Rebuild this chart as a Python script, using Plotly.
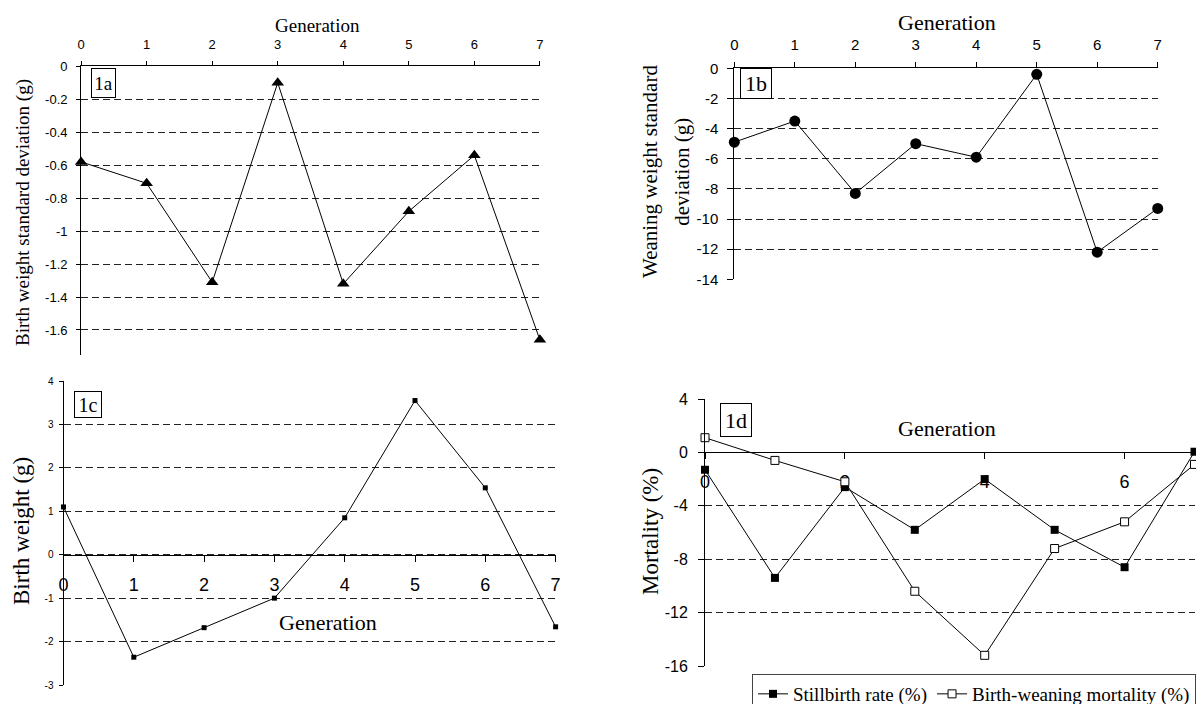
import plotly.graph_objects as go

W, H = 1204, 704
OFF = 8  # page body margin offset in the screenshot

# ---------------- data ----------------
generation = [0, 1, 2, 3, 4, 5, 6, 7]
gen_tick_text = ["0", "1", "2", "3", "4", "5", "6", "7"]

birth_weight_sd = [-0.58, -0.71, -1.31, -0.10, -1.32, -0.88, -0.54, -1.66]
bw_sd_ticks = [0, -0.2, -0.4, -0.6, -0.8, -1.0, -1.2, -1.4, -1.6]
bw_sd_tick_text = ["0", "-0.2", "-0.4", "-0.6", "-0.8", "-1", "-1.2", "-1.4", "-1.6"]

weaning_weight_sd = [-4.9, -3.5, -8.3, -5.0, -5.9, -0.4, -12.2, -9.3]
ww_sd_ticks = [0, -2, -4, -6, -8, -10, -12, -14]
ww_sd_tick_text = ["0", "-2", "-4", "-6", "-8", "-10", "-12", "-14"]

birth_weight = [1.10, -2.36, -1.68, -1.00, 0.85, 3.55, 1.54, -1.66]
bw_ticks = [4, 3, 2, 1, 0, -1, -2, -3]
bw_tick_text = ["4", "3", "2", "1", "0", "-1", "-2", "-3"]

stillbirth_rate = [-1.3, -9.4, -2.6, -5.8, -2.0, -5.8, -8.6, 0.05]
birth_weaning_mortality = [1.1, -0.6, -2.2, -10.4, -15.2, -7.2, -5.2, -0.9]
mort_ticks = [4, 0, -4, -8, -12, -16]
mort_tick_text = ["4", "0", "-4", "-8", "-12", "-16"]
mort_gen_ticks = [0, 2, 4, 6]
mort_gen_tick_text = ["0", "2", "4", "6"]

SANS = "Liberation Sans, Arial, sans-serif"
SERIF = "Liberation Serif, Times New Roman, serif"


def px_x(p):
    return (p - OFF) / W


def px_y(p):
    return 1 - (p - OFF) / H


fig = go.Figure()

line = dict(color="black", width=1)

fig.add_trace(go.Scatter(x=generation, y=birth_weight_sd, mode="lines+markers",
                         line=line, marker=dict(symbol="triangle-up", size=11, color="black"),
                         xaxis="x", yaxis="y", showlegend=False, cliponaxis=False))
fig.add_trace(go.Scatter(x=generation, y=weaning_weight_sd, mode="lines+markers",
                         line=line, marker=dict(symbol="circle", size=11, color="black"),
                         xaxis="x2", yaxis="y2", showlegend=False, cliponaxis=False))
fig.add_trace(go.Scatter(x=generation, y=birth_weight, mode="lines+markers",
                         line=line, marker=dict(symbol="square", size=5, color="black"),
                         xaxis="x3", yaxis="y3", showlegend=False, cliponaxis=False))
fig.add_trace(go.Scatter(x=generation, y=stillbirth_rate, mode="lines+markers",
                         name="Stillbirth rate (%)",
                         line=line, marker=dict(symbol="square", size=8, color="black"),
                         xaxis="x4", yaxis="y4", cliponaxis=False))
fig.add_trace(go.Scatter(x=generation, y=birth_weaning_mortality, mode="lines+markers",
                         name="Birth-weaning mortality (%)",
                         line=line, marker=dict(symbol="square", size=8, color="white",
                                                line=dict(color="black", width=1)),
                         xaxis="x4", yaxis="y4", cliponaxis=False))

GRID = dict(showgrid=True, gridcolor="#222222", gridwidth=1, griddash="7px,4px")
AX = dict(showline=True, linecolor="black", linewidth=1, zeroline=False, automargin=False,
          ticks="outside", tickcolor="black", tickwidth=1)

layout = dict(
    width=W, height=H, margin=dict(l=0, r=0, t=0, b=0, pad=0, autoexpand=False),
    paper_bgcolor="white", plot_bgcolor="white",
    # 1a
    xaxis=dict(**AX, domain=[px_x(81.1), px_x(539.9)], range=[0, 7], side="top", anchor="y",
               tickvals=generation, ticktext=gen_tick_text, ticklen=4, showgrid=False,
               tickfont=dict(family=SANS, size=13, color="black"), ticklabelstandoff=7),
    yaxis=dict(**AX, **GRID, domain=[px_y(354.7), px_y(66.3)], range=[-1.75, 0], anchor="x",
               tickvals=bw_sd_ticks, ticktext=bw_sd_tick_text, ticklen=4,
               tickfont=dict(family=SANS, size=13, color="black"), ticklabelstandoff=6),
    # 1b
    xaxis2=dict(**AX, domain=[px_x(734.3), px_x(1157.7)], range=[0, 7], side="top", anchor="y2",
                tickvals=generation, ticktext=gen_tick_text, ticklen=5, showgrid=False,
                tickfont=dict(family=SANS, size=15, color="black"), ticklabelstandoff=6),
    yaxis2=dict(**AX, **GRID, domain=[px_y(279.3), px_y(68.3)], range=[-14, 0], anchor="x2",
                tickvals=ww_sd_ticks, ticktext=ww_sd_tick_text, ticklen=6,
                tickfont=dict(family=SANS, size=15, color="black"), ticklabelstandoff=6),
    # 1c
    xaxis3=dict(**AX, domain=[px_x(63.5), px_x(555.6)], range=[0, 7], anchor="free",
                position=px_y(555), side="bottom",
                tickvals=generation, ticktext=gen_tick_text, ticklen=6, showgrid=False,
                tickfont=dict(family=SANS, size=18, color="black"), ticklabelstandoff=7),
    yaxis3=dict(**AX, **GRID, domain=[px_y(685), px_y(381)], range=[-3, 4], anchor="x3",
                tickvals=bw_ticks, ticktext=bw_tick_text, ticklen=4,
                tickfont=dict(family=SANS, size=10, color="black"), ticklabelstandoff=3),
    # 1d
    xaxis4=dict(**AX, domain=[px_x(705), px_x(1194.5)], range=[0, 7], anchor="free",
                position=px_y(452.3), side="bottom", layer="below traces",
                tickvals=mort_gen_ticks, ticktext=mort_gen_tick_text, ticklen=6, showgrid=False,
                tickfont=dict(family=SANS, size=18, color="black"), ticklabelstandoff=7),
    yaxis4=dict(**AX, **GRID, domain=[px_y(666), px_y(399)], range=[-16, 4], anchor="x4",
                tickvals=mort_ticks, ticktext=mort_tick_text, ticklen=6,
                tickfont=dict(family=SANS, size=16, color="black"), ticklabelstandoff=7),
    legend=dict(orientation="h", x=px_x(752), y=px_y(674), xanchor="left", yanchor="top",
                bordercolor="#444444", borderwidth=1, bgcolor="white",
                font=dict(family=SERIF, size=19, color="black"),
                itemwidth=30, tracegroupgap=0),
)
fig.update_layout(**layout)

annotations = []


def title(text, x, y, size, angle=0):
    annotations.append(dict(text=text, x=px_x(x), y=px_y(y), xref="paper", yref="paper",
                            showarrow=False, textangle=angle, xanchor="center", yanchor="middle",
                            font=dict(family=SERIF, size=size, color="black")))


def panel_label(text, x, y, size, w, h):
    annotations.append(dict(text=text, x=px_x(x), y=px_y(y), xref="paper", yref="paper",
                            showarrow=False, xanchor="center", yanchor="middle",
                            width=w - 2, height=h - 2, align="center", valign="middle",
                            bordercolor="black", borderwidth=1, borderpad=0, bgcolor="white",
                            font=dict(family=SERIF, size=size, color="black")))


title("Generation", 317.6, 25, 19)
title("Birth weight standard deviation (g)", 23, 213, 19, -90)
title("Generation", 946.7, 22, 22)
title("Weaning weight standard", 649.3, 171.7, 21, -90)
title("deviation (g)", 682, 171.7, 21, -90)
title("Generation", 328.3, 622, 22)
title("Birth weight (g)", 21, 531, 23, -90)
title("Generation", 946.7, 428, 22)
title("Mortality (%)", 650, 532, 23, -90)

panel_label("1a", 103.4, 83, 19, 25, 30)
panel_label("1b", 755.8, 83.7, 22, 32, 31)
panel_label("1c", 88.4, 404.5, 20, 28, 27)
panel_label("1d", 736.2, 420, 22, 32, 34)

fig.update_layout(annotations=annotations)

fig.write_html("out.html")
